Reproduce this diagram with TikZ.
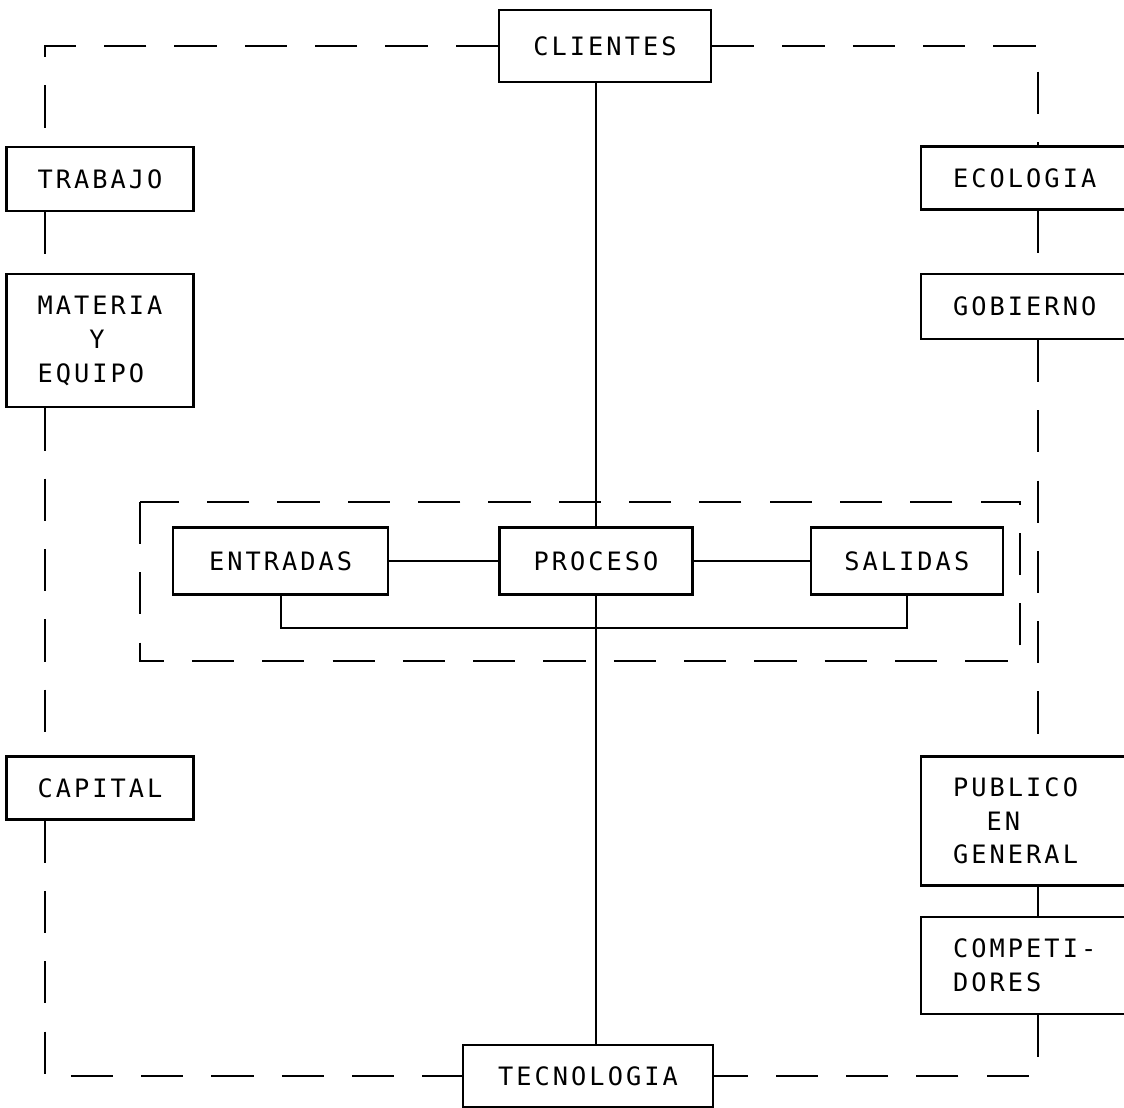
\documentclass[tikz,border=0pt]{standalone}
\usepackage{fontspec}
\usepackage{tikz}
\usetikzlibrary{positioning}
\newfontfamily\boxfont[LetterSpace=12]{DejaVu Sans Mono}

\begin{document}
\begin{tikzpicture}[
    x=0.025cm, y=-0.025cm,
    line width=1.6pt,
    box/.style={rectangle, draw, minimum width=4.675cm, minimum height=1.6cm, align=center,
        font=\boxfont\fontsize{18}{24}\selectfont},
    sidebox/.style={box, anchor=west, text width=4.4cm, inner xsep=0.8cm, align=left},
    link/.style={dash pattern=on 30pt off 20pt},
]
    \useasboundingbox (0,0) rectangle (1124,1108);

    \node[box, minimum width=5.3cm, minimum height=1.8cm] (clientes) at (605,46) {CLIENTES};
    \node[box, minimum width=6.25cm, minimum height=1.55cm] (tecnologia) at (588,1076) {TECNOLOGIA};

    \node[box] (trabajo) at (100,179) {TRABAJO};
    \node[box, minimum height=3.325cm, align=left, below=1.525cm of trabajo] (materia) {MATERIA\\\phantom{MAT}Y\\EQUIPO};
    \node[box, minimum height=1.575cm] (capital) at (100,788) {CAPITAL};

    \node[sidebox, minimum height=1.575cm] (ecologia) at (920,178) {ECOLOGIA};
    \node[sidebox, minimum height=1.625cm, below=1.55cm of ecologia] (gobierno) {GOBIERNO};
    \node[sidebox, minimum height=3.225cm] (publico) at (920,821) {PUBLICO\\\phantom{PU}EN\\GENERAL};
    \node[sidebox, minimum height=2.425cm, below=0.725cm of publico] (competidores) {COMPETI-\\DORES};

    \node[box, minimum width=4.825cm, minimum height=1.675cm] (proceso) at (596,561) {PROCESO};
    \node[box, minimum width=5.375cm, minimum height=1.675cm, left=2.725cm of proceso] (entradas) {ENTRADAS};
    \node[box, minimum width=4.8cm, minimum height=1.675cm, right=2.9cm of proceso] (salidas) {SALIDAS};

    \coordinate (tl) at (45,46);
    \coordinate (tr) at (1038,46);
    \coordinate (bl) at (tl |- tecnologia.west);
    \coordinate (br) at (tr |- tecnologia.east);

    % outer loop
    \draw[link] (clientes.west) -- (tl) -- (tl |- trabajo.north);
    \draw[link] (tl |- trabajo.south) -- (tl |- materia.north);
    \draw[link] (tl |- materia.south) -- (tl |- capital.north);
    \draw[link] (tl |- capital.south) -- (bl) -- (tecnologia.west);
    \draw[link] (clientes.east) -- (tr) -- (tr |- ecologia.north);
    \draw[link] (tr |- ecologia.south) -- (tr |- gobierno.north);
    \draw[link] (tr |- gobierno.south) -- (tr |- publico.north);
    \draw[link] (tr |- publico.south) -- (tr |- competidores.north);
    \draw[link] (tr |- competidores.south) -- (br) -- (tecnologia.east);

    % system
    \draw[link] (140,502) rectangle (1020,661);
    \draw (entradas) -- (proceso);
    \draw (proceso) -- (salidas);
    \draw (entradas.south) -- ++(0,32) -| (salidas.south);
    \draw (clientes.south -| proceso.north) -- (proceso.north);
    \draw (proceso.south) -- (proceso.south |- tecnologia.north);
\end{tikzpicture}
\end{document}
